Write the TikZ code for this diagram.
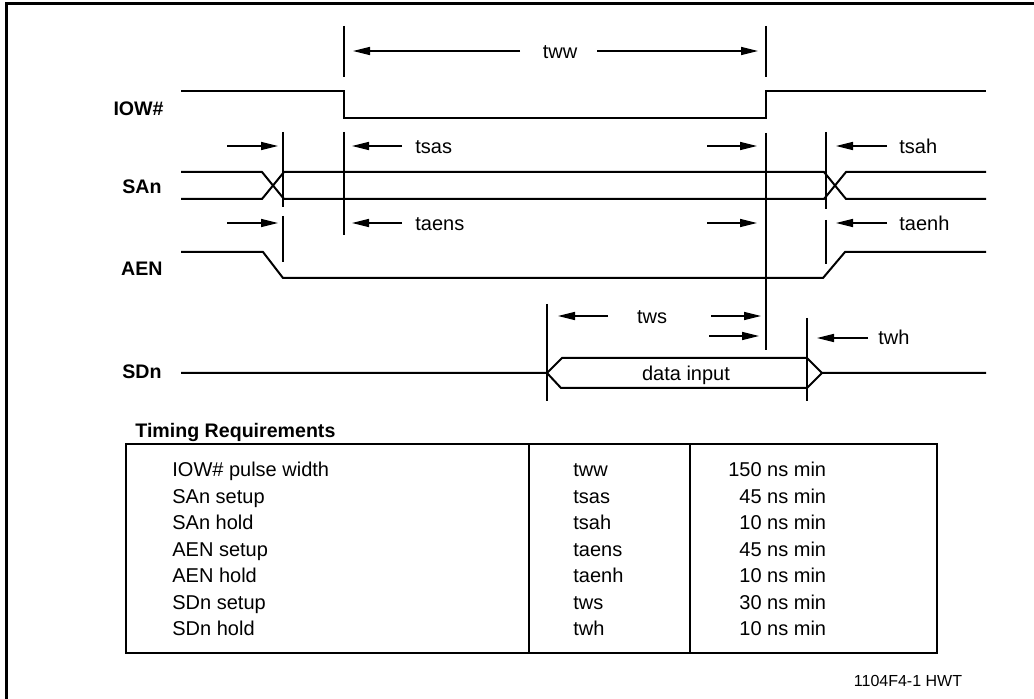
\documentclass[tikz,border=0pt]{standalone}
\usepackage{fontspec}
\setmainfont{Liberation Sans}
\usetikzlibrary{arrows.meta,positioning}
\tikzset{
      wave/.style = {line width=1pt},                              % signal traces
   refline/.style = {line width=0.8pt},                            % timing marks
       arr/.style = {-{Triangle[length=8.5pt,width=4pt]}, line width=0.7pt},
       lbl/.style = {font=\fontsize{10}{12}\selectfont, inner sep=0pt,
                     text height=7.2pt, text depth=0pt},
   signame/.style = {font=\fontsize{9.8}{12}\selectfont\bfseries, anchor=east,
                     inner sep=0pt, text height=7pt, text depth=0pt},
       tbl/.style = {line width=1pt},
        }

\begin{document}
\begin{tikzpicture}[x=0.5pt, y=-0.5pt]
  \useasboundingbox (0,0) rectangle (1034,699);
  \draw[line width=1.5pt] (6,699) -- (6,4) -- (1034,4);

  % signal names
  \node[signame] (iow) at (164,109) {IOW\#};
  \node[signame] (san) at (162,187) {SAn};
  \node[signame] (aen) at (163,269) {AEN};
  \node[signame] (sdn) at (162,372) {SDn};

  % waveforms
  \draw[wave] (181,91) -- (344,91) -- (344,118) -- (766,118) -- (766,91) -- (986,91);
  \draw[wave] (181,172) -- (262,172) -- (284,199) -- (824,199) -- (846,172) -- (986,172);
  \draw[wave] (181,199) -- (262,199) -- (284,172) -- (824,172) -- (846,199) -- (986,199);
  \draw[wave] (181,252) -- (263,252) -- (283,278) -- (823,278) -- (845,252) -- (986,252);
  \draw[wave] (181,373) -- (547,373) -- (562,358) -- (807,358) -- (822,373) -- (986,373);
  \draw[wave] (547,373) -- (561,388) -- (807,388) -- (822,373);
  \node[lbl] (data) at (686,373) {data input};

  % timing marks
  \foreach \x/\ya/\yb in {283/132/207, 283/216/262, 344/26/77, 344/132/235,
                          766/26/77, 766/133/350, 826/132/209, 826/220/264,
                          547/304/401, 807/318/401}
    \draw[refline] (\x,\ya) -- (\x,\yb);

  % timing labels
  \node[lbl] (tww) at (560,51) {tww};
  \node[lbl, anchor=west] (tsas)  at (415,146) {tsas};
  \node[lbl, anchor=west] (taens) at (415,223) {taens};
  \node[lbl, anchor=west] (tsah)  at (899,146) {tsah};
  \node[lbl, anchor=west] (taenh) at (899,223) {taenh};
  \node[lbl] (tws) at (652,316) {tws};
  \node[lbl, anchor=west] (twh)   at (878,337) {twh};

  % arrows (tail/tip/y)
  \foreach \xa/\xb/\y in {520/353/51, 597/758/51,
                          227/278/146, 227/278/223, 402/352/146, 402/352/223,
                          707/757/146, 707/757/223, 887/836/146, 887/836/223,
                          608/558/316, 711/761/316, 709/759/336, 868/817/338}
    \draw[arr] (\xa,\y) -- (\xb,\y);

  % requirements table
  \node[signame, anchor=west] (treq) at (135,431) {Timing Requirements};
  \draw[tbl] (126,444) rectangle (937,653);
  \draw[tbl] (528.5,444) -- (528.5,653) (690,444) -- (690,653);
  \foreach \p/\s/\v [count=\i from 0] in {IOW\# pulse width/tww/150 ns min,
        SAn setup/tsas/45 ns min, SAn hold/tsah/10 ns min,
        AEN setup/taens/45 ns min, AEN hold/taenh/10 ns min,
        SDn setup/tws/30 ns min, SDn hold/twh/10 ns min}{
    \node[lbl, anchor=west] (par\i) at (172,{469.5+26.5*\i}) {\p};
    \node[lbl, anchor=west] (sym\i) at (573,{469.5+26.5*\i}) {\s};
    \node[lbl, anchor=east] (val\i) at (826.5,{469.5+26.5*\i}) {\v};
  }

  \node[inner sep=0pt, font=\fontsize{8}{10}\selectfont] (figid) at (908,681) {1104F4-1 HWT};
\end{tikzpicture}
\end{document}
